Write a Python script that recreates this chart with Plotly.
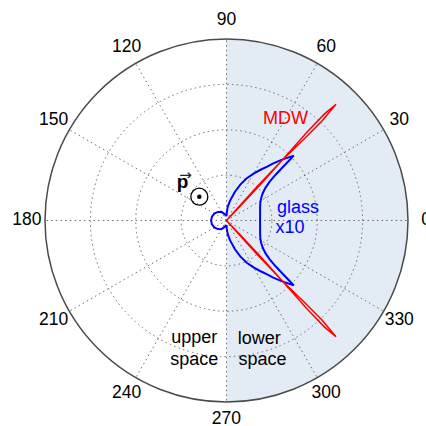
import plotly.graph_objects as go

# Angular tick positions (degrees) and their labels
angle_ticks = [0, 30, 60, 90, 120, 150, 180, 210, 240, 270, 300, 330]
angle_labels = [str(a) for a in angle_ticks]

# Radial grid rings (normalised intensity)
radial_rings = [0.25, 0.5, 0.75]

# MDW emission pattern: two narrow lobes into the lower space
mdw_theta = [-90, -46.0, -46.4, -46.7, -47.3, -47.7, -47.4, -46.7, -46.2, -46.4, -47.3, -47.9, -48.2, -48.5,
             0,
             48.5, 48.2, 47.9, 47.3, 46.4, 46.2, 46.7, 47.4, 47.7, 47.3, 46.7, 46.4, 46.0, 90]
mdw_r = [0.0, 0.0, 0.12, 0.28, 0.45, 0.66, 0.80, 0.88, 0.76, 0.62, 0.45, 0.25, 0.10, 0.0,
         0.0,
         0.0, 0.10, 0.25, 0.45, 0.62, 0.76, 0.88, 0.80, 0.66, 0.45, 0.28, 0.12, 0.0, 0.0]

# Glass emission pattern (scaled x10): crescent in the lower space, small loop in the upper space
glass_theta = [-90, -88, -85, -80, -73.6, -69, -64.4, -60, -56.4, -53, -50.7, -48, -46.1, -44,
               -43.8, -43.5, -43.0, -42.0, -40.0, -37.0, -33.0, -28.0, -20.0, -10.0,
               0,
               10.0, 20.0, 28.0, 33.0, 37.0, 40.0, 42.0, 43.0, 43.5, 43.8,
               44, 46.1, 48, 50.7, 53, 56.4, 60, 64.4, 69, 73.6, 80, 85, 88, 90,
               105, 120, 135, 150, 165, 180, 195, 210, 225, 240, 255, 270]
glass_r = [0.025, 0.045, 0.075, 0.11, 0.165, 0.212, 0.258, 0.298, 0.334, 0.372, 0.407, 0.448, 0.477, 0.515,
           0.48, 0.43, 0.37, 0.32, 0.28, 0.25, 0.228, 0.211, 0.197, 0.188,
           0.185,
           0.188, 0.197, 0.211, 0.228, 0.25, 0.28, 0.32, 0.37, 0.43, 0.48,
           0.515, 0.477, 0.448, 0.407, 0.372, 0.334, 0.298, 0.258, 0.212, 0.165, 0.11, 0.075, 0.045, 0.025,
           0.035, 0.055, 0.067, 0.077, 0.083, 0.085, 0.083, 0.077, 0.067, 0.055, 0.035, 0.025]

FONT = "Liberation Sans, Arial, Helvetica, sans-serif"
RED = "#ff0000"
BLUE = "#0000ff"
GRID = "#6e6e6e"
DOTS = "1.5px,3.2px"

fig = go.Figure()

# Shaded lower-space half disc, drawn in a background polar subplot
fig.add_trace(go.Barpolar(
    r=[1], theta=[0], width=[180], base=0,
    marker=dict(color="#e3ebf5", line=dict(width=0)),
    subplot="polar", hoverinfo="skip",
))

# Emission patterns
fig.add_trace(go.Scatterpolar(
    r=glass_r, theta=glass_theta, mode="lines",
    line=dict(color=BLUE, width=2), subplot="polar2", hoverinfo="skip",
))
fig.add_trace(go.Scatterpolar(
    r=mdw_r, theta=mdw_theta, mode="lines",
    line=dict(color=RED, width=1.5), subplot="polar2", hoverinfo="skip",
))

# Angular tick labels, centred on a ring 1.1x the outer radius (own subplot)
fig.add_trace(go.Scatterpolar(
    r=[1.0] * len(angle_ticks), theta=angle_ticks, mode="text", text=angle_labels,
    textposition="middle center", textfont=dict(family=FONT, size=17.5, color="black"),
    cliponaxis=False, subplot="polar3", hoverinfo="skip",
))

# Curve labels
label_text = ["MDW", "glass", "x10", "upper", "space", "lower", "space"]
label_r = [0.6435, 0.399, 0.3527, 0.675, 0.790, 0.678, 0.795]
label_theta = [59.66, 9.4, -7.36, 254.7, 257.0, 285.4, 284.45]
label_color = [RED, BLUE, BLUE, "black", "black", "black", "black"]
fig.add_trace(go.Scatterpolar(
    r=label_r, theta=label_theta, mode="text", text=label_text,
    textposition="middle center", textfont=dict(family=FONT, size=18, color=label_color),
    cliponaxis=False, subplot="polar2", hoverinfo="skip",
))

# Dipole moment symbol: bold p with vector arrow, pointing out of the plane
fig.add_trace(go.Scatterpolar(
    r=[0.318], theta=[139.7], mode="text", text=["<b>p</b>"],
    textposition="middle center", textfont=dict(family=FONT, size=19, color="black"),
    cliponaxis=False, subplot="polar2", hoverinfo="skip",
))
fig.add_trace(go.Scatterpolar(
    r=[0.33], theta=[133.0], mode="text", text=["\u2192"],
    textposition="middle center", textfont=dict(family="DejaVu Sans", size=15, color="#222222"),
    cliponaxis=False, subplot="polar2", hoverinfo="skip",
))
fig.add_trace(go.Scatterpolar(
    r=[0.199], theta=[138.8], mode="markers",
    marker=dict(symbol="circle-open", size=17, color="black", line=dict(width=1.3)),
    subplot="polar2", hoverinfo="skip",
))
fig.add_trace(go.Scatterpolar(
    r=[0.199], theta=[138.8], mode="markers",
    marker=dict(symbol="circle", size=4.5, color="black", line=dict(width=0)),
    subplot="polar2", hoverinfo="skip",
))

domain = dict(x=[45 / 426, 408 / 426], y=[24 / 426, 387 / 426])
label_domain = dict(x=[26.85 / 426, 1.0], y=[5.85 / 426, 405.15 / 426])

fig.update_layout(
    width=426, height=426,
    margin=dict(l=0, r=0, t=0, b=0),
    paper_bgcolor="white",
    showlegend=False,
    polar=dict(
        domain=domain, bgcolor="white",
        radialaxis=dict(range=[0, 1], visible=False),
        angularaxis=dict(visible=False, direction="counterclockwise", rotation=0),
    ),
    polar2=dict(
        domain=domain, bgcolor="rgba(0,0,0,0)",
        radialaxis=dict(
            range=[0, 1], tickvals=radial_rings, showticklabels=False, ticks="",
            showline=False, showgrid=True, gridcolor=GRID, gridwidth=1, griddash=DOTS,
        ),
        angularaxis=dict(
            direction="counterclockwise", rotation=0, tickvals=angle_ticks,
            showticklabels=False, ticks="", showline=True, linecolor="#4a4a4a", linewidth=1.5,
            showgrid=True, gridcolor=GRID, gridwidth=1, griddash=DOTS,
        ),
    ),
    polar3=dict(
        domain=label_domain, bgcolor="rgba(0,0,0,0)",
        radialaxis=dict(range=[0, 1], visible=False),
        angularaxis=dict(visible=False, direction="counterclockwise", rotation=0),
    ),
)

fig.write_html("out.html")
